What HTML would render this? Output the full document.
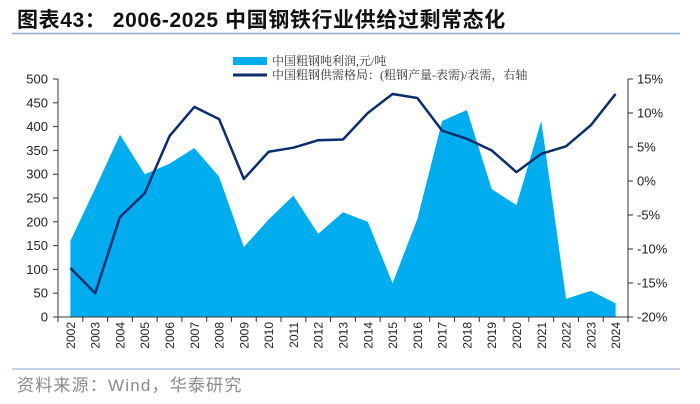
<!DOCTYPE html>
<html><head><meta charset="utf-8"><style>
body{margin:0;background:#fff;width:700px;height:404px;overflow:hidden}
svg{display:block;font-family:"Liberation Sans","Noto Sans CJK SC",sans-serif}
</style></head><body>
<svg width="700" height="404">
<text x="17" y="27" font-size="21" font-weight="bold" letter-spacing="0.6" fill="#111">图表43：  2006-2025 中国钢铁行业供给过剩常态化</text>
<line x1="12" y1="33.5" x2="680" y2="33.5" stroke="#8eaad3" stroke-width="1.5"/>
<g id="plot"></g>
<g>
<rect x="233" y="57" width="34" height="8" fill="#00aeef"/>
<text x="272" y="65" font-size="12" fill="#333" font-family="'Liberation Serif','Noto Serif CJK SC',serif">中国粗钢吨利润,元/吨</text>
<line x1="233" y1="75" x2="267" y2="75" stroke="#0c2e6e" stroke-width="3"/>
<text x="272" y="79" font-size="12" fill="#333" font-family="'Liberation Serif','Noto Serif CJK SC',serif">中国粗钢供需格局：(粗钢产量-表需)/表需，右轴</text>
</g>
<line x1="12" y1="369" x2="680" y2="369" stroke="#8eaad3" stroke-width="1"/>
<text x="17" y="391" font-size="17" letter-spacing="1.2" fill="#8a8a8a">资料来源：Wind，华泰研究</text>
</svg>
<script>
const years=["2002","2003","2004","2005","2006","2007","2008","2009","2010","2011","2012","2013","2014","2015","2016","2017","2018","2019","2020","2021","2022","2023","2024"];
const profit=[160,270,383,300,322,355,295,147,205,255,175,220,200,71,206,412,435,269,235,412,38,55,29];
const balance=[-12.8,-16.5,-5.3,-1.8,6.6,10.9,9.1,0.3,4.3,4.9,6.0,6.1,10.0,12.8,12.2,7.4,6.2,4.5,1.3,4.0,5.1,8.2,12.8];
const leftTicks=[0,50,100,150,200,250,300,350,400,450,500];
const rightTicks=[-20,-15,-10,-5,0,5,10,15];
const NS="http://www.w3.org/2000/svg";
const g=document.getElementById('plot');
const X0=58,X1=628,Y0=317,Y1=79;
const bw=(X1-X0)/years.length;
const xc=i=>X0+(i+0.5)*bw;
const yL=v=>Y0-(v/500)*(Y0-Y1);
const yR=v=>Y0-((v+20)/35)*(Y0-Y1);
function mk(t,a){const e=document.createElementNS(NS,t);for(const k in a)e.setAttribute(k,a[k]);g.appendChild(e);return e;}
let d="M"+xc(0)+","+Y0;
profit.forEach((v,i)=>{d+=" L"+xc(i)+","+yL(v);});
d+=" L"+xc(profit.length-1)+","+Y0+" Z";
const area=mk('path',{d:d,fill:'#00aeef'});


const pts=balance.map((v,i)=>xc(i)+","+yR(v)).join(" ");
const line=mk('polyline',{points:pts,fill:'none',stroke:'#0c2e6e','stroke-width':2.5,'stroke-linejoin':'round'});


const ax=mk('path',{d:`M${X0},${Y1} V${Y0} H${X1} M${X1},${Y1} V${Y0}`,stroke:'#333',fill:'none','stroke-width':1});


leftTicks.forEach(v=>{
  mk('line',{x1:X0-5,x2:X0,y1:yL(v),y2:yL(v),stroke:'#333'});
  const t=mk('text',{x:X0-10,y:yL(v)+4.5,'font-size':13,'text-anchor':'end',fill:'#222'});
  t.textContent=v;
  
  
});
rightTicks.forEach(v=>{
  mk('line',{x1:X1,x2:X1+5,y1:yR(v),y2:yR(v),stroke:'#333'});
  const t=mk('text',{x:X1+9,y:yR(v)+4.5,'font-size':13,fill:'#222'});
  t.textContent=v+"%";
  
  
});
for(let i=0;i<=years.length;i++){mk('line',{x1:X0+i*bw,x2:X0+i*bw,y1:Y0,y2:Y0+5,stroke:'#333'});}
years.forEach((y,i)=>{
  const t=mk('text',{x:0,y:0,'font-size':12,'text-anchor':'end',fill:'#222',transform:`translate(${xc(i)+4.5},322) rotate(-90)`});
  t.textContent=y;
  
  
});
</script>
</body></html>
